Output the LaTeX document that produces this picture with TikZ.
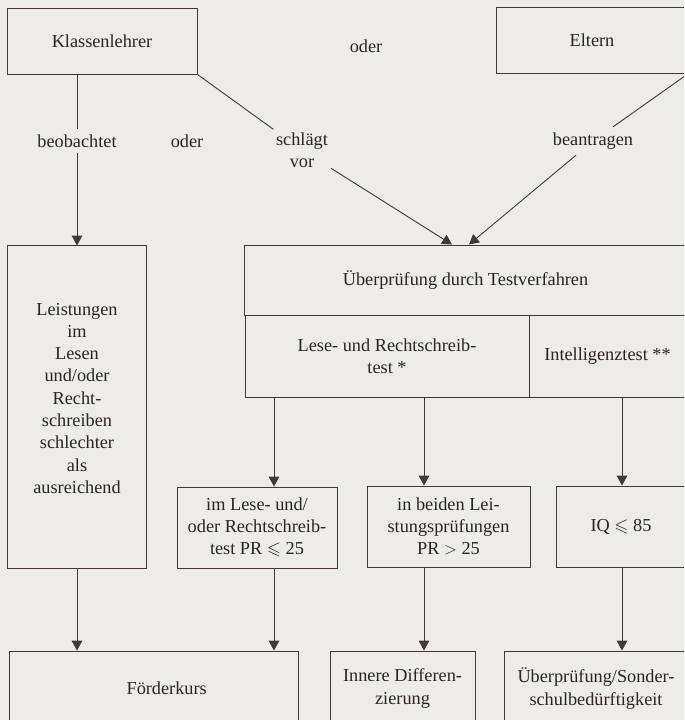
\documentclass[tikz,border=0pt]{standalone}
\usepackage{amssymb}
\usepackage{fontspec}
\setmainfont{Liberation Serif}
\usetikzlibrary{arrows.meta}
\definecolor{paper}{RGB}{237,236,232}
\definecolor{ink}{RGB}{70,56,52}

\begin{document}
\begin{tikzpicture}[
    x=0.025cm, y=-0.025cm,
    font=\fontsize{13pt}{15.85pt}\selectfont,
    box/.style={draw=ink, line width=0.65pt, align=center, text=ink!65!black},
    lbl/.style={align=center, inner sep=4pt, text=ink!65!black},
    con/.style={draw=ink, line width=0.65pt},
    arr/.style={con, -{Triangle[length=7pt,width=7.5pt]}}
]
\useasboundingbox (0,0) rectangle (684,720);
\clip (0,0) rectangle (684,720);
\fill[paper] (0,0) rectangle (684,720);

% Columns for the vertical arrows
\coordinate (colA) at (274,0);
\coordinate (colB) at (424,0);
\coordinate (colC) at (622,0);
\coordinate (inL) at (452,0);
\coordinate (inR) at (469,0);

% Top row
\node[box, minimum width=4.75cm, minimum height=1.65cm] (kl) at (102,41) {Klassenlehrer};
\node[box, minimum width=4.8cm, minimum height=1.65cm] (el) at (592,40) {Eltern};
\node[lbl] (oderA) at (366,46) {oder};

\node[lbl] (beob) at (77,141) {beobachtet};
\node[lbl] (oderB) at (187,141) {oder};
\node[lbl, inner sep=2pt] (schl) at (302,150) {schlägt\\vor};
\node[lbl] (bean) at (593,141) {beantragen};

% Middle
\node[box, minimum width=3.475cm, minimum height=8.05cm,
    label={[yshift=0.22cm, align=center, text=ink!65!black]center:Leistungen\\im\\Lesen\\und/oder\\Recht-\\schreiben\\schlechter\\als\\ausreichend}]
    (leist) at (77,407) {};
\node[box, minimum width=11.025cm, minimum height=1.75cm] (ueb) at (465.5,280) {Überprüfung durch Testverfahren};
\node[box, minimum width=7.1cm, minimum height=2.05cm] (lrt) at (387,356) {Lese- und Rechtschreib-\\test *};
\node[box, minimum width=3.925cm, minimum height=2.05cm] (igt) at (607.5,356) {Intelligenztest **};

\node[box, minimum width=4cm, minimum height=2.025cm] (ld) at (257,527.5)
    {im Lese- und/\\oder Rechtschreib-\\test PR~$\leqslant$~25};
\node[box, minimum width=4.075cm, minimum height=2.025cm] (pr) at (448.5,526.5)
    {in beiden Lei-\\stungsprüfungen\\PR~$>$~25};
\node[box, minimum width=3.25cm, minimum height=2.025cm] (iq) at (621,526.5) {IQ~$\leqslant$~85};

% Bottom row
\node[box, minimum width=7.225cm, minimum height=1.875cm,
    label={[xshift=0.33cm, text=ink!65!black]center:Förderkurs}] (fk) at (153.5,688.5) {};
\node[box, minimum width=3.625cm, minimum height=1.875cm] (id) at (402.5,688.5) {Innere Differen-\\zierung};
\node[box, minimum width=4.6cm, minimum height=1.875cm] (sb) at (596,688.5) {Überprüfung/Sonder-\\schulbedürftigkeit};

% Connectors
\draw[con] (kl.south -| beob.north) -- (beob.north);
\draw[arr] (beob.south) -- (leist.north);
\draw[con] (kl.south east) -- (schl);
\draw[arr] (schl) -- (ueb.north -| inL);
\draw[con] (el.south east) -- (bean);
\draw[arr] (bean) -- (ueb.north -| inR);

\draw[arr] (lrt.south -| colA) -- (ld.north -| colA);
\draw[arr] (lrt.south -| colB) -- (pr.north -| colB);
\draw[arr] (igt.south -| colC) -- (iq.north -| colC);

\draw[arr] (leist.south) -- (fk.north -| leist.south);
\draw[arr] (ld.south -| colA) -- (fk.north -| colA);
\draw[arr] (pr.south -| colB) -- (id.north -| colB);
\draw[arr] (iq.south -| colC) -- (sb.north -| colC);
\end{tikzpicture}
\end{document}
